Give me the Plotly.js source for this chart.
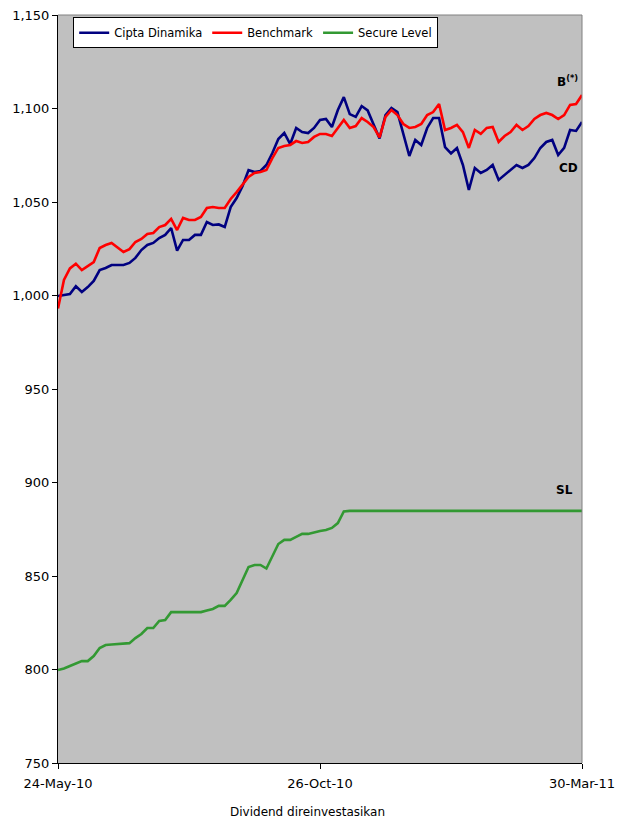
<!DOCTYPE html>
<html>
<head>
<meta charset="utf-8">
<script src="https://cdn.plot.ly/plotly-3.0.1.min.js"></script>
<style>html,body{margin:0;padding:0;background:#fff;}#chart{width:623px;height:821px;}</style>
</head>
<body>
<div id="chart"></div>
<script>
const tickLabels = ["24-May-10", "26-Oct-10", "30-Mar-11"];
const yTicks = [750, 800, 850, 900, 950, 1000, 1050, 1100, 1150];

const ciptaDinamika = [
  999.7, 1000.3, 1000.8, 1005.0, 1001.9, 1004.5, 1007.8, 1013.6, 1014.7, 1016.3,
  1016.3, 1016.3, 1017.4, 1020.1, 1024.3, 1027.0, 1028.1, 1030.7, 1032.4, 1036.1,
  1024.0, 1029.7, 1029.7, 1032.4, 1032.4, 1039.3, 1037.7, 1038.0, 1036.6, 1047.3,
  1052.1, 1058.6, 1067.1, 1066.0, 1066.6, 1069.8, 1076.2, 1083.7, 1086.9, 1081.0,
  1089.6, 1087.4, 1086.9, 1089.6, 1093.9, 1094.4, 1090.1, 1099.2, 1106.1, 1097.0,
  1095.5, 1101.3, 1099.0, 1091.2, 1084.0, 1096.5, 1100.3, 1098.1, 1086.9, 1074.6,
  1083.2, 1080.5, 1089.6, 1094.9, 1094.9, 1079.4, 1076.0, 1078.9, 1069.8, 1056.4,
  1068.2, 1065.5, 1067.1, 1069.8, 1061.8, 1064.4, 1067.1, 1069.8, 1068.2, 1069.8,
  1073.5, 1078.9, 1082.1, 1083.2, 1075.1, 1078.9, 1088.5, 1088.0, 1092.8
];

const benchmark = [
  993.0, 1008.3, 1014.5, 1017.0, 1013.6, 1015.8, 1017.9, 1025.4, 1027.0, 1028.1,
  1025.9, 1023.3, 1024.8, 1028.6, 1030.2, 1032.9, 1033.4, 1036.6, 1037.7, 1041.0,
  1035.0, 1041.5, 1040.4, 1040.4, 1042.0, 1046.8, 1047.3, 1046.8, 1046.8, 1051.6,
  1055.3, 1059.1, 1063.4, 1065.5, 1066.0, 1067.1, 1073.5, 1078.9, 1080.0, 1080.5,
  1082.6, 1081.6, 1082.1, 1084.8, 1086.4, 1086.4, 1085.3, 1089.6, 1093.9, 1089.6,
  1090.6, 1094.9, 1092.8, 1090.1, 1084.5, 1095.5, 1099.2, 1096.5, 1091.7, 1089.6,
  1090.1, 1091.7, 1096.5, 1098.1, 1102.4, 1088.5, 1089.6, 1091.2, 1087.4, 1078.9,
  1088.5, 1086.4, 1089.6, 1090.1, 1082.1, 1085.3, 1087.4, 1091.2, 1088.5, 1090.6,
  1094.4, 1096.5, 1097.6, 1096.5, 1094.4, 1096.5, 1101.9, 1102.4, 1107.2
];

const secureLevel = [
  799.7, 800.5, 801.9, 803.0, 804.5, 804.5, 807.2, 811.5, 813.1, 813.4,
  813.6, 813.6, 814.1, 816.8, 819.0, 822.2, 822.2, 826.0, 826.5, 830.7,
  830.7, 830.7, 830.7, 830.7, 830.7, 831.6, 832.4, 834.0, 834.0, 837.2,
  840.9, 847.9, 854.8, 855.9, 855.9, 854.0, 860.7, 867.1, 869.3, 869.3,
  870.9, 872.5, 872.5, 873.5, 874.1, 874.6, 875.7, 878.3, 884.5, 884.8,
  884.8, 884.8, 884.8, 884.8, 884.8, 884.8, 884.8, 884.8, 884.8, 884.8,
  884.8, 884.8, 884.8, 884.8, 884.8, 884.8, 884.8, 884.8, 884.8, 884.8,
  884.8, 884.8, 884.8, 884.8, 884.8, 884.8, 884.8, 884.8, 884.8, 884.8,
  884.8, 884.8, 884.8, 884.8, 884.8, 884.8, 884.8, 884.8, 884.8
];

const n = ciptaDinamika.length;
const xs = ciptaDinamika.map((_, i) => i);
const tickPos = [0, (n - 1) / 2, n - 1];

const FONT = "'DejaVu Sans', sans-serif";

const traces = [
  {x: xs, y: ciptaDinamika, name: "Cipta Dinamika", mode: "lines",
   line: {color: "#000080", width: 2.6}},
  {x: xs, y: benchmark, name: "Benchmark", mode: "lines",
   line: {color: "#FF0000", width: 2.6}},
  {x: xs, y: secureLevel, name: "Secure Level", mode: "lines",
   line: {color: "#339933", width: 2.6}}
];

const layout = {
  width: 623, height: 821,
  margin: {l: 58, r: 41, t: 15, b: 58, pad: 0},
  paper_bgcolor: "#ffffff",
  plot_bgcolor: "#C0C0C0",
  font: {family: FONT, size: 12, color: "#000"},
  showlegend: true,
  legend: {
    orientation: "h", x: 0.029, y: 0.997, xanchor: "left", yanchor: "top",
    bgcolor: "#ffffff", bordercolor: "#000", borderwidth: 1,
    font: {family: FONT, size: 11.5, color: "#000"},
    itemwidth: 30, tracegroupgap: 0, traceorder: "normal"
  },
  xaxis: {
    range: [0, n - 1], tickmode: "array", tickvals: tickPos, ticktext: tickLabels,
    showgrid: false, zeroline: false, showline: true, linecolor: "#000", linewidth: 1,
    ticks: "outside", ticklen: 5, tickcolor: "#000", ticklabelstandoff: 3,
    tickfont: {family: FONT, size: 13, color: "#000"}
  },
  yaxis: {
    range: [750, 1150], tickmode: "array", tickvals: yTicks,
    tickformat: ",d", showgrid: false, zeroline: false,
    showline: true, linecolor: "#000", linewidth: 1,
    ticks: "outside", ticklen: 5, tickcolor: "#000",
    tickfont: {family: FONT, size: 13, color: "#000"}
  },
  shapes: [
    {type: "line", xref: "paper", yref: "paper", x0: 0, x1: 1, y0: 1, y1: 1,
     line: {color: "#808080", width: 1}},
    {type: "line", xref: "paper", yref: "paper", x0: 1, x1: 1, y0: 0, y1: 1,
     line: {color: "#808080", width: 1}}
  ],
  annotations: [
    {xref: "paper", yref: "paper", x: 0.477, y: -0.065, xanchor: "center", yanchor: "middle",
     text: "Dividend direinvestasikan", showarrow: false,
     font: {family: FONT, size: 12, color: "#000"}},
    {xref: "x", yref: "y", x: n - 3.5, y: 1114.5, text: "<b>B<sup>(*)</sup></b>", showarrow: false,
     font: {family: FONT, size: 12, color: "#000"}},
    {xref: "x", yref: "y", x: n - 3.2, y: 1068, text: "<b>CD</b>", showarrow: false,
     font: {family: FONT, size: 12, color: "#000"}},
    {xref: "x", yref: "y", x: n - 4, y: 896, text: "<b>SL</b>", showarrow: false,
     font: {family: FONT, size: 12, color: "#000"}}
  ]
};

Plotly.newPlot("chart", traces, layout, {displayModeBar: false, staticPlot: true});
</script>
</body>
</html>
